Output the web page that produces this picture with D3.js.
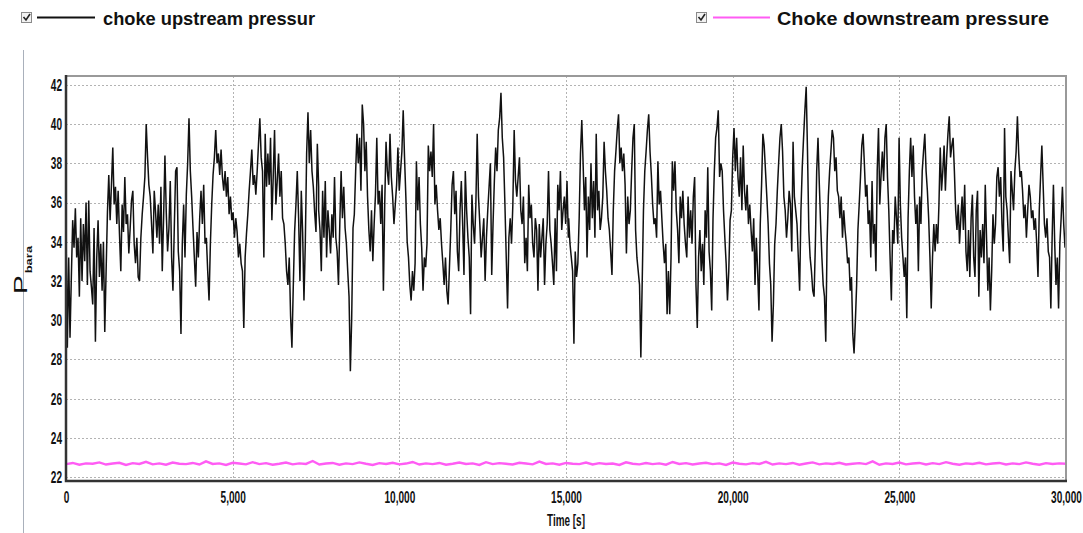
<!DOCTYPE html>
<html>
<head>
<meta charset="utf-8">
<script src="https://d3js.org/d3.v7.min.js"></script>
<style>
  body { margin: 0; background: #fff; }
  svg { display: block; }
</style>
</head>
<body>
<div id="vis"></div>
<script>
// tick values
const yTicks = [22, 24, 26, 28, 30, 32, 34, 36, 38, 40, 42]
const xTicks = [0, 5000, 10000, 15000, 20000, 25000, 30000]
const seriesNames = ["choke upstream pressur", "Choke downstream pressure"]

// choke upstream pressure in four stretches
// each stretch is spread evenly between its start and end time [s]
const upstreamSpans = [[0, 7580], [7580, 15070], [15080, 22560], [22600, 29970]]
const upstreamA = [34.7, 28.6, 33.2, 29.1, 32.2, 35.1, 33.7, 35.7, 33.2, 34.2, 31.2, 35.2, 32.0, 34.9, 33.0, 36.0, 31.8, 36.1, 32.5, 31.7,
  30.8, 34.7, 28.9, 33.2, 35.1, 32.2, 33.9, 31.5, 34.0, 29.4, 32.5, 35.5, 37.4, 35.1, 36.9, 38.8, 35.9, 36.8, 34.9, 36.6,
  34.4, 32.5, 35.9, 34.5, 37.3, 34.9, 35.4, 33.4, 34.7, 36.1, 36.6, 33.9, 32.9, 34.2, 32.2, 32.0, 34.2, 35.4, 36.3, 37.3,
  40.0, 38.3, 36.9, 36.3, 34.9, 33.4, 36.6, 35.5, 34.2, 35.9, 33.9, 36.8, 32.5, 35.2, 38.4, 35.5, 33.5, 34.7, 37.1, 33.2,
  31.5, 34.7, 37.6, 37.8, 33.5, 32.5, 29.3, 33.9, 35.9, 33.2, 36.4, 38.0, 40.3, 37.6, 36.3, 34.7, 33.2, 31.7, 34.5, 33.2,
  35.2, 36.6, 34.9, 36.9, 33.9, 34.2, 32.5, 31.0, 33.9, 35.9, 37.4, 38.3, 39.7, 38.0, 38.5, 37.4, 38.7, 37.3, 36.6, 37.6,
  36.3, 37.3, 35.4, 36.3, 35.1, 35.5, 34.2, 35.2, 34.5, 33.2, 33.9, 32.9, 32.5, 29.6, 33.2, 34.4, 35.4, 36.6, 37.6, 38.7,
  36.9, 37.4, 36.4, 37.6, 39.0, 40.3, 38.3, 37.6, 33.2, 39.5, 36.8, 38.5, 36.9, 39.3, 35.1, 37.3, 39.7, 35.9, 37.1, 38.5,
  36.3, 37.6, 35.2, 34.9, 33.9, 32.5, 31.8, 33.2, 30.2, 28.6, 31.7, 34.5, 35.9, 37.6, 35.2, 32.0, 36.6, 34.5, 31.0, 33.9,
  38.5, 40.6, 38.0, 39.7, 37.6, 36.8, 35.5, 34.5, 39.0, 36.8]
const upstreamB = [35.6, 34.6, 32.5, 36.6, 34.2, 37.1, 33.2, 35.6, 34.6, 33.4, 35.4, 34.2, 37.3, 34.2, 33.5, 31.8, 34.9, 37.6, 35.2, 36.8,
  34.7, 33.9, 32.5, 31.2, 27.4, 30.1, 34.7, 35.4, 37.6, 39.5, 38.0, 39.3, 36.6, 41.0, 40.0, 37.6, 39.1, 36.3, 34.6, 33.5,
  35.6, 33.0, 34.9, 36.4, 39.3, 35.9, 36.6, 34.9, 36.9, 31.5, 35.9, 39.1, 37.6, 36.9, 39.5, 37.3, 36.3, 34.9, 35.9, 36.9,
  38.8, 36.6, 37.6, 38.6, 40.7, 38.3, 36.3, 34.0, 33.2, 31.8, 31.0, 32.5, 31.5, 32.9, 38.1, 35.6, 37.3, 34.9, 33.7, 31.5,
  33.2, 32.7, 33.9, 38.9, 37.6, 38.6, 37.3, 40.0, 35.9, 36.9, 35.6, 34.6, 35.2, 33.9, 32.9, 31.8, 33.2, 31.5, 30.8, 32.7,
  34.6, 36.9, 37.6, 35.4, 36.6, 33.5, 32.5, 35.6, 37.1, 34.9, 32.3, 37.6, 35.6, 34.2, 33.2, 30.3, 36.4, 34.9, 33.9, 35.9,
  39.5, 36.3, 34.9, 33.2, 34.2, 35.2, 32.0, 34.2, 35.6, 36.8, 38.0, 32.3, 34.9, 37.1, 38.8, 37.6, 39.7, 40.3, 41.6, 39.3,
  38.3, 35.9, 33.2, 30.6, 34.2, 35.2, 33.9, 35.9, 39.7, 37.1, 36.3, 37.3, 38.3, 35.6, 34.9, 36.3, 32.9, 34.2, 32.5, 36.9,
  35.2, 35.9, 33.9, 33.2, 35.2, 34.6, 31.5, 34.9, 33.2, 34.2, 35.2, 31.8, 33.9, 34.9, 37.6, 34.6, 33.9, 32.9, 31.8, 35.2,
  32.5, 36.9, 35.6, 37.6, 34.6, 35.6, 36.3, 34.9, 37.1, 34.2]
const upstreamC = [35.2, 33.9, 33.2, 32.5, 28.8, 33.5, 32.2, 32.9, 35.2, 38.5, 40.2, 38.0, 35.6, 37.3, 33.2, 36.3, 34.6, 38.0, 35.2, 37.1,
  34.2, 39.5, 35.6, 36.6, 34.6, 35.2, 36.3, 39.1, 37.6, 36.6, 35.2, 34.6, 33.5, 32.3, 35.6, 37.6, 38.6, 39.7, 40.5, 38.0,
  38.8, 37.6, 38.5, 36.9, 33.4, 36.3, 34.9, 35.6, 37.6, 39.3, 40.0, 34.6, 33.2, 32.5, 31.8, 28.1, 31.8, 35.6, 37.6, 38.6,
  39.7, 40.5, 38.6, 37.4, 35.9, 34.9, 35.2, 34.2, 38.1, 35.9, 36.6, 35.2, 33.9, 32.9, 33.9, 30.3, 32.5, 30.3, 33.2, 38.1,
  36.6, 38.1, 35.6, 34.6, 32.9, 36.3, 35.2, 36.6, 34.9, 33.9, 33.2, 36.3, 34.2, 35.6, 33.9, 36.3, 37.3, 31.8, 29.6, 33.2,
  34.6, 32.5, 33.9, 31.8, 35.6, 34.2, 37.8, 33.5, 32.5, 30.5, 35.2, 37.6, 39.3, 39.8, 40.7, 37.3, 38.0, 37.6, 35.6, 34.2,
  32.9, 31.0, 32.5, 35.1, 35.6, 38.3, 39.8, 37.6, 39.3, 37.3, 36.3, 38.3, 35.6, 38.9, 36.6, 35.6, 36.9, 34.9, 35.9, 34.6,
  33.5, 35.2, 31.8, 34.2, 32.5, 30.5, 34.9, 36.9, 39.5, 38.9, 37.6, 36.3, 34.9, 32.9, 31.8, 28.9, 30.8, 33.9, 34.9, 36.6,
  38.0, 39.3, 40.0, 38.6, 36.3, 35.6, 34.2, 35.2, 36.6, 35.9, 33.5, 39.1, 36.3, 35.6, 34.9, 33.2, 31.5, 35.6, 37.8, 39.3,
  40.7, 41.9, 38.6, 34.6, 33.2, 32.5, 31.5, 31.2, 33.9, 37.6, 39.3]
const upstreamD = [36.9, 34.9, 33.2, 31.8, 31.2, 28.9, 33.9, 36.3, 37.6, 38.6, 39.7, 39.3, 37.6, 38.3, 36.6, 36.3, 35.2, 36.3, 34.2, 35.6,
  34.6, 33.9, 32.9, 33.2, 31.5, 32.2, 29.3, 28.3, 29.9, 31.8, 34.6, 35.9, 37.3, 38.9, 39.5, 38.0, 36.3, 36.9, 34.9, 35.6,
  33.2, 37.1, 33.9, 34.9, 32.5, 37.6, 39.8, 35.9, 37.4, 38.6, 37.1, 39.3, 40.0, 37.3, 35.6, 33.2, 31.0, 34.6, 33.9, 36.3,
  35.2, 33.9, 39.3, 35.9, 34.2, 33.2, 32.2, 33.2, 30.1, 35.2, 37.6, 39.3, 37.3, 38.9, 36.3, 34.9, 35.9, 32.5, 36.3, 34.9,
  37.6, 38.6, 39.5, 37.6, 36.6, 35.2, 33.2, 30.6, 33.2, 34.9, 33.5, 34.9, 33.9, 35.9, 38.8, 36.6, 37.6, 38.9, 36.6, 38.3,
  39.5, 40.4, 38.3, 38.9, 39.3, 37.6, 35.6, 34.6, 35.9, 33.9, 35.2, 36.3, 34.6, 36.9, 33.5, 32.5, 34.6, 32.2, 35.2, 36.4,
  33.2, 32.2, 35.6, 36.6, 31.2, 34.6, 33.2, 34.9, 32.9, 36.9, 34.2, 31.5, 33.2, 30.5, 32.5, 35.4, 33.9, 34.9, 37.3, 37.8,
  36.3, 37.3, 34.9, 33.5, 39.8, 36.3, 35.6, 34.2, 32.9, 37.6, 36.6, 35.6, 37.6, 38.6, 40.4, 38.5, 37.3, 37.6, 36.6, 35.2,
  35.9, 34.2, 35.6, 36.9, 36.3, 35.2, 35.6, 34.6, 35.2, 33.9, 32.2, 35.6, 37.3, 38.9, 36.9, 34.9, 34.2, 35.2, 33.5, 33.2,
  30.6, 34.2, 36.9, 33.9, 31.8, 33.2, 30.6, 33.9, 35.2, 36.8, 34.9, 33.7]

// choke downstream pressure, one value every 200 s
const downstreamStep = 200
const downstream = [22.66, 22.72, 22.63, 22.70, 22.68, 22.75, 22.64, 22.69, 22.73, 22.62,
  22.71, 22.67, 22.78, 22.65, 22.70, 22.63, 22.74, 22.68, 22.66, 22.72,
  22.64, 22.80, 22.67, 22.70, 22.62, 22.73, 22.69, 22.65, 22.76, 22.66,
  22.71, 22.63, 22.68, 22.74, 22.65, 22.70, 22.67, 22.82, 22.64, 22.69,
  22.72, 22.63, 22.70, 22.66, 22.75, 22.68, 22.62, 22.71, 22.67, 22.73,
  22.65, 22.69, 22.77, 22.64, 22.70, 22.66, 22.72, 22.63, 22.68, 22.74,
  22.67, 22.70, 22.62, 22.76, 22.66, 22.71, 22.68, 22.64, 22.73, 22.69,
  22.65, 22.79, 22.67, 22.70, 22.63, 22.72, 22.68, 22.66, 22.74, 22.64,
  22.71, 22.67, 22.69, 22.62, 22.75, 22.68, 22.65, 22.72, 22.66, 22.70,
  22.63, 22.77, 22.67, 22.71, 22.64, 22.69, 22.73, 22.66, 22.70, 22.62,
  22.74, 22.68, 22.65, 22.71, 22.67, 22.78, 22.64, 22.70, 22.66, 22.72,
  22.63, 22.69, 22.75, 22.65, 22.70, 22.67, 22.73, 22.64, 22.68, 22.71,
  22.66, 22.80, 22.63, 22.70, 22.67, 22.74, 22.65, 22.69, 22.72, 22.64,
  22.71, 22.66, 22.76, 22.68, 22.63, 22.70, 22.67, 22.73, 22.65, 22.69,
  22.72, 22.64, 22.70, 22.66, 22.75, 22.68, 22.63, 22.71, 22.67, 22.70, 22.68]

const W = 1083, H = 533
const plot = {left: 66, right: 1066, top: 76, bottom: 481}
const tickFont = "'Liberation Sans Narrow', 'Arial Narrow', 'Liberation Sans', Arial, sans-serif"
const upColor = "#111111"
const downColor = "#ff5cf4"

const svg = d3.select("#vis").append("svg")
    .attr("width", W)
    .attr("height", H)

//scales
const x = d3.scaleLinear().domain([0, 30000]).range([plot.left, plot.right])
const y = d3.scaleLinear().domain([21.8, 42.45]).range([plot.bottom, plot.top])

//build points from the arrays
const upstreamParts = [upstreamA, upstreamB, upstreamC, upstreamD]
const upPoints = []
upstreamParts.forEach((vals, k) => {
    const [t0, t1] = upstreamSpans[k]
    vals.forEach((v, i) => upPoints.push({t: t0 + i * (t1 - t0) / (vals.length - 1), v: v}))
})
const downPoints = downstream.map((v, i) => ({t: i * downstreamStep, v: v}))

//thin line on the far left
svg.append("line")
    .attr("x1", 23.5).attr("x2", 23.5)
    .attr("y1", 50).attr("y2", H)
    .attr("stroke", "#a9b0bb")
    .attr("stroke-width", 1)

//grid
svg.append("g").selectAll("line").data(yTicks).join("line")
    .attr("x1", plot.left).attr("x2", plot.right)
    .attr("y1", d => Math.round(y(d)) + 0.5).attr("y2", d => Math.round(y(d)) + 0.5)
    .attr("stroke", "#b3b3b3")
    .attr("stroke-dasharray", "2,2")
svg.append("g").selectAll("line").data(xTicks.slice(1, -1)).join("line")
    .attr("x1", d => Math.round(x(d)) + 0.5).attr("x2", d => Math.round(x(d)) + 0.5)
    .attr("y1", plot.top).attr("y2", plot.bottom)
    .attr("stroke", "#b3b3b3")
    .attr("stroke-dasharray", "2,2")

//lines
svg.append("clipPath").attr("id", "clip")
    .append("rect")
    .attr("x", plot.left).attr("y", plot.top)
    .attr("width", plot.right - plot.left).attr("height", plot.bottom - plot.top)

const line = d3.line().x(d => x(d.t)).y(d => y(d.v))

svg.append("path")
    .datum(downPoints)
    .attr("clip-path", "url(#clip)")
    .attr("fill", "none")
    .attr("stroke", downColor)
    .attr("stroke-width", 2.4)
    .attr("d", line)

svg.append("path")
    .datum(upPoints)
    .attr("clip-path", "url(#clip)")
    .attr("fill", "none")
    .attr("stroke", upColor)
    .attr("stroke-width", 1.5)
    .attr("stroke-linejoin", "miter")
    .attr("d", line)

//frame
svg.append("rect")
    .attr("x", plot.left).attr("y", plot.top)
    .attr("width", plot.right - plot.left).attr("height", plot.bottom - plot.top)
    .attr("fill", "none")
    .attr("stroke", "#999")
    .attr("stroke-width", 2)
svg.append("path")
    .attr("d", `M${plot.left},${plot.top - 1}V${plot.bottom}H${plot.right + 1}`)
    .attr("fill", "none")
    .attr("stroke", "#333")
    .attr("stroke-width", 2.5)

//measure digit width so labels come out narrow like the picture
const probe = svg.append("text")
    .style("font-family", tickFont).style("font-weight", "bold").style("font-size", "17px")
    .text("0000")
const sx = 5.6 / (probe.node().getComputedTextLength() / 4)
probe.remove()

//y axis
const yAxisG = svg.append("g")
    .attr("transform", `translate(${plot.left},0)`)
    .call(d3.axisLeft(y).tickValues(yTicks).tickSize(0).tickPadding(4))
yAxisG.select(".domain").remove()
yAxisG.selectAll("text")
    .style("font-family", tickFont).style("font-weight", "bold").style("font-size", "17px")
    .attr("fill", "#111")
    .attr("x", -4 / sx)
    .attr("transform", `scale(${sx},1)`)

//x axis
const xAxisG = svg.append("g")
    .attr("transform", `translate(0,${plot.bottom})`)
    .call(d3.axisBottom(x).tickValues(xTicks).tickFormat(d3.format(",")).tickSize(0).tickPadding(10))
xAxisG.select(".domain").remove()
xAxisG.selectAll("text")
    .style("font-family", tickFont).style("font-weight", "bold").style("font-size", "17px")
    .attr("fill", "#111")
    .attr("transform", `scale(${sx},1)`)
//the tick groups are translated, so scaling the text keeps it centred on the tick

//axis titles
svg.append("text")
    .attr("transform", `translate(566,526) scale(${sx * 1.05},1)`)
    .attr("text-anchor", "middle")
    .style("font-family", tickFont).style("font-weight", "bold").style("font-size", "16px")
    .attr("fill", "#111")
    .text("Time [s]")

const yTitle = svg.append("text")
    .attr("transform", "translate(27,294) scale(0.68,1) rotate(-90)")
    .style("font-family", "'Liberation Sans', Arial, sans-serif")
    .attr("fill", "#111")
yTitle.append("tspan").style("font-size", "28px").text("P")
yTitle.append("tspan").style("font-size", "13px").style("font-weight", "bold")
    .attr("dy", 8).attr("dx", 2).text("bara")

//legend
const legendItems = [
    {name: seriesNames[0], color: upColor, box: 21, lineFrom: 37, lineTo: 95, textX: 103, textW: 212},
    {name: seriesNames[1], color: downColor, box: 696, lineFrom: 713, lineTo: 770, textX: 777, textW: 272}
]
const legend = svg.append("g").selectAll("g").data(legendItems).join("g")
legend.append("rect")
    .attr("x", d => d.box + 0.5).attr("y", 12.5)
    .attr("width", 10).attr("height", 10)
    .attr("fill", "#f2f2f2")
    .attr("stroke", "#8a8a8a")
legend.append("path")
    .attr("d", d => `M${d.box + 2.5},${17} l2.5,3 l4,-6`)
    .attr("fill", "none")
    .attr("stroke", "#222")
    .attr("stroke-width", 1.6)
legend.append("line")
    .attr("x1", d => d.lineFrom).attr("x2", d => d.lineTo)
    .attr("y1", 17.5).attr("y2", 17.5)
    .attr("stroke", d => d.color)
    .attr("stroke-width", 2)
legend.append("text")
    .attr("x", d => d.textX).attr("y", 25)
    .attr("textLength", d => d.textW)
    .attr("lengthAdjust", "spacingAndGlyphs")
    .style("font-family", "'Liberation Sans', Arial, sans-serif")
    .style("font-weight", "bold").style("font-size", "19px")
    .attr("fill", "#111")
    .text(d => d.name)
</script>
</body>
</html>
